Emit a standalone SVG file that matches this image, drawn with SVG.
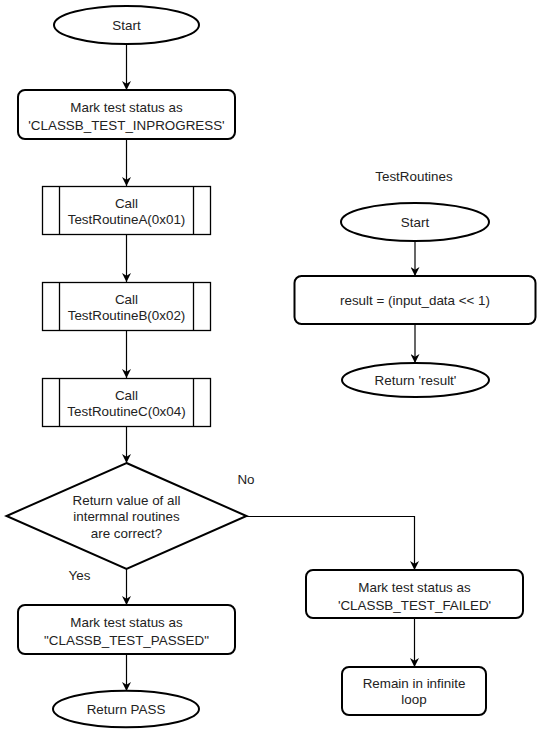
<svg xmlns="http://www.w3.org/2000/svg" width="544" height="735" viewBox="0 0 544 735">
<defs>
<marker id="arr" viewBox="0 0 10 10" refX="10" refY="5" markerWidth="9" markerHeight="9" markerUnits="userSpaceOnUse" orient="auto">
<path d="M0,0 L10,5 L0,10 L3,5 Z" fill="#000"/>
</marker>
<style>
.t{font-family:"Liberation Sans",Arial,sans-serif;font-size:13.4px;fill:#222;text-anchor:middle;dominant-baseline:central}
.b{fill:#fff;stroke:#000;stroke-width:2}
.p{fill:#fff;stroke:#000;stroke-width:1.3}
.c{fill:none;stroke:#000;stroke-width:1.2;marker-end:url(#arr)}
</style>
</defs>
<rect width="544" height="735" fill="#fff"/>
<g id="connectors">
<line class="c" x1="126.5" y1="44" x2="126.5" y2="90"/>
<line class="c" x1="126.5" y1="139" x2="126.5" y2="186"/>
<line class="c" x1="126.5" y1="234" x2="126.5" y2="282"/>
<line class="c" x1="126.5" y1="330" x2="126.5" y2="378"/>
<line class="c" x1="126.5" y1="426" x2="126.5" y2="463"/>
<line class="c" x1="126.5" y1="569" x2="126.5" y2="605"/>
<line class="c" x1="126.5" y1="654" x2="126.5" y2="691"/>
<polyline class="c" points="246.5,516.5 414.5,516.5 414.5,570"/>
<line class="c" x1="414.5" y1="618" x2="414.5" y2="667"/>
<line class="c" x1="415" y1="241" x2="415" y2="276"/>
<line class="c" x1="415" y1="324" x2="415" y2="363"/>
<text class="t" x="79.5" y="575">Yes</text>
<text class="t" x="246" y="479">No</text>
</g>
<g id="start">
<ellipse class="b" cx="126.5" cy="25" rx="72.5" ry="19"/>
<text class="t" x="126.5" y="25">Start</text>
</g>
<g id="inprogress">
<rect class="b" x="18" y="90" width="217" height="49" rx="7"/>
<text class="t" x="126.5" y="107">Mark test status as</text>
<text class="t" x="126.5" y="125">'CLASSB_TEST_INPROGRESS'</text>
</g>
<g id="callA">
<rect class="p" x="42.5" y="186.5" width="168" height="48"/>
<line class="p" x1="59.5" y1="186.5" x2="59.5" y2="234.5"/>
<line class="p" x1="193.5" y1="186.5" x2="193.5" y2="234.5"/>
<text class="t" x="126.5" y="203">Call</text>
<text class="t" x="126.5" y="219">TestRoutineA(0x01)</text>
</g>
<g id="callB">
<rect class="p" x="42.5" y="282.5" width="168" height="48"/>
<line class="p" x1="59.5" y1="282.5" x2="59.5" y2="330.5"/>
<line class="p" x1="193.5" y1="282.5" x2="193.5" y2="330.5"/>
<text class="t" x="126.5" y="299">Call</text>
<text class="t" x="126.5" y="315">TestRoutineB(0x02)</text>
</g>
<g id="callC">
<rect class="p" x="42.5" y="378.5" width="168" height="48"/>
<line class="p" x1="59.5" y1="378.5" x2="59.5" y2="426.5"/>
<line class="p" x1="193.5" y1="378.5" x2="193.5" y2="426.5"/>
<text class="t" x="126.5" y="395">Call</text>
<text class="t" x="126.5" y="411">TestRoutineC(0x04)</text>
</g>
<g id="decision">
<polygon class="b" points="126.5,463 246.5,516 126.5,569 6.5,516"/>
<text class="t" x="126.5" y="500">Return value of all</text>
<text class="t" x="126.5" y="516.5">intermnal routines</text>
<text class="t" x="126.5" y="533">are correct?</text>
</g>
<g id="passed">
<rect class="b" x="18" y="605" width="217" height="49" rx="7"/>
<text class="t" x="126.5" y="622.5">Mark test status as</text>
<text class="t" x="126.5" y="640">"CLASSB_TEST_PASSED"</text>
</g>
<g id="returnpass">
<ellipse class="b" cx="126" cy="709" rx="73" ry="18.3"/>
<text class="t" x="126" y="709">Return PASS</text>
</g>
<g id="failed">
<rect class="b" x="306" y="570" width="217" height="48" rx="7"/>
<text class="t" x="414.5" y="587">Mark test status as</text>
<text class="t" x="414.5" y="605">'CLASSB_TEST_FAILED'</text>
</g>
<g id="loop">
<rect class="b" x="342" y="667" width="144" height="48" rx="7"/>
<text class="t" x="414" y="683">Remain in infinite</text>
<text class="t" x="414" y="699">loop</text>
</g>
<g id="title">
<text class="t" x="414" y="176">TestRoutines</text>
</g>
<g id="tr-start">
<ellipse class="b" cx="415" cy="222" rx="74" ry="19"/>
<text class="t" x="415" y="222">Start</text>
</g>
<g id="tr-result">
<rect class="b" x="294.5" y="276" width="241" height="48" rx="7"/>
<text class="t" x="415" y="300">result = (input_data &lt;&lt; 1)</text>
</g>
<g id="tr-return">
<ellipse class="b" cx="415.5" cy="380" rx="73.5" ry="17"/>
<text class="t" x="415.5" y="380">Return 'result'</text>
</g>
</svg>
